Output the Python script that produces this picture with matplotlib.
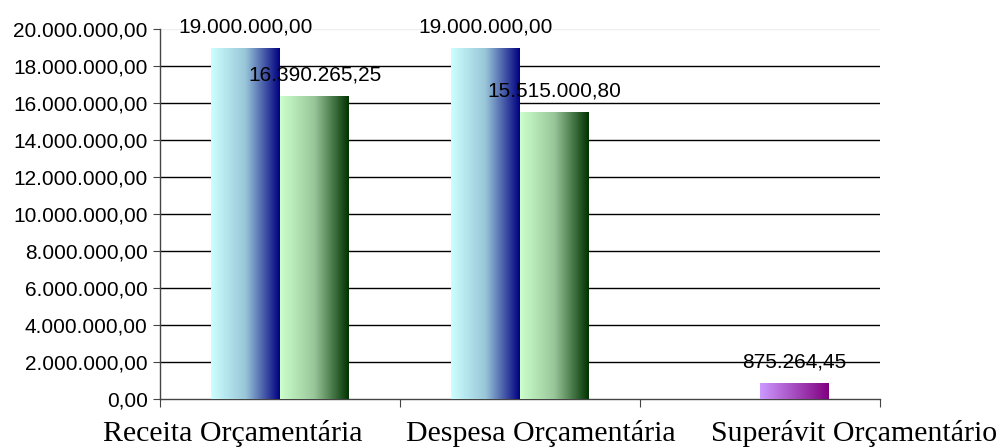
import numpy as np
import matplotlib
matplotlib.use("Agg")
import matplotlib.pyplot as plt
import matplotlib.transforms as mtransforms
from matplotlib.colors import LinearSegmentedColormap

categories = ["Receita Orçamentária", "Despesa Orçamentária", "Superávit Orçamentário"]
previsto = [19000000.00, 19000000.00, np.nan]
realizado = [16390265.25, 15515000.80, 875264.45]
yticks = list(range(0, 20000001, 2000000))

def br(v):
    s = f"{v:,.2f}"
    return s.replace(",", "X").replace(".", ",").replace("X", ".")

fig = plt.figure(figsize=(9.98, 4.47), dpi=100)
ax = fig.add_axes([160/998, 1-399/447, 720/998, 370/447])

cmap_blue = LinearSegmentedColormap.from_list("b", ["#CCFFFF", "#99C6D8", "#000080"])
cmap_green = LinearSegmentedColormap.from_list("g", ["#CCFFCC", "#99C699", "#003300"])
cmap_purple = LinearSegmentedColormap.from_list("p", ["#CC99FF", "#800080"])

x = np.arange(len(categories))
w = 0.2875
grad = np.linspace(0, 1, 256).reshape(1, -1)

def gradbars(xs, vals, cmaps):
    for xi, v, cm in zip(xs, vals, cmaps):
        if np.isnan(v):
            continue
        b = ax.bar(xi, v, width=w, color="none", edgecolor="none", zorder=3)[0]
        im = ax.imshow(grad, cmap=cm, aspect="auto", extent=[xi - w/2, xi + w/2, 0, v],
                       zorder=3, interpolation="bicubic")
        im.set_clip_path(b)
        ax.annotate(br(v), (xi, v), xytext=(0, 8), textcoords="offset points",
                    ha="center", va="bottom", fontsize=15, family="Liberation Sans",
                    color="black", zorder=5)

gradbars(x - w/2, previsto, [cmap_blue]*3)
gradbars(x + w/2, realizado, [cmap_green, cmap_green, cmap_purple])

ax.set_xlim(-0.5, 2.5)
ax.set_ylim(0, 20000000)
ax.set_yticks(yticks)
ax.set_yticklabels([br(t) for t in yticks], fontsize=15, family="Liberation Sans")
for t in yticks[1:-1]:
    ax.axhline(t, color="black", lw=1.0, zorder=1)
ax.axhline(yticks[-1], color="#eeeeee", lw=1.0, zorder=1)

ax.set_xticks([-0.5, 0.5, 1.5, 2.5])
ax.set_xticklabels([])
ax.tick_params(axis="x", which="major", length=6, direction="out", color="#444444")
ax.tick_params(axis="y", length=5, direction="out", color="#444444", pad=4)

# category labels (placed as in the reference)
label_x = [-0.198, 1.0875, 2.39]
trans = mtransforms.blended_transform_factory(ax.transData, ax.transAxes)
for lx, cat in zip(label_x, categories):
    ax.text(lx, -0.1135, cat, transform=trans, ha="center", va="baseline",
            fontsize=21.5, family="Liberation Serif", clip_on=False)

for s in ["top", "right"]:
    ax.spines[s].set_visible(False)
for s in ["left", "bottom"]:
    ax.spines[s].set_color("#444444")
    ax.spines[s].set_linewidth(1.0)

fig.savefig("out.png", dpi=100)
